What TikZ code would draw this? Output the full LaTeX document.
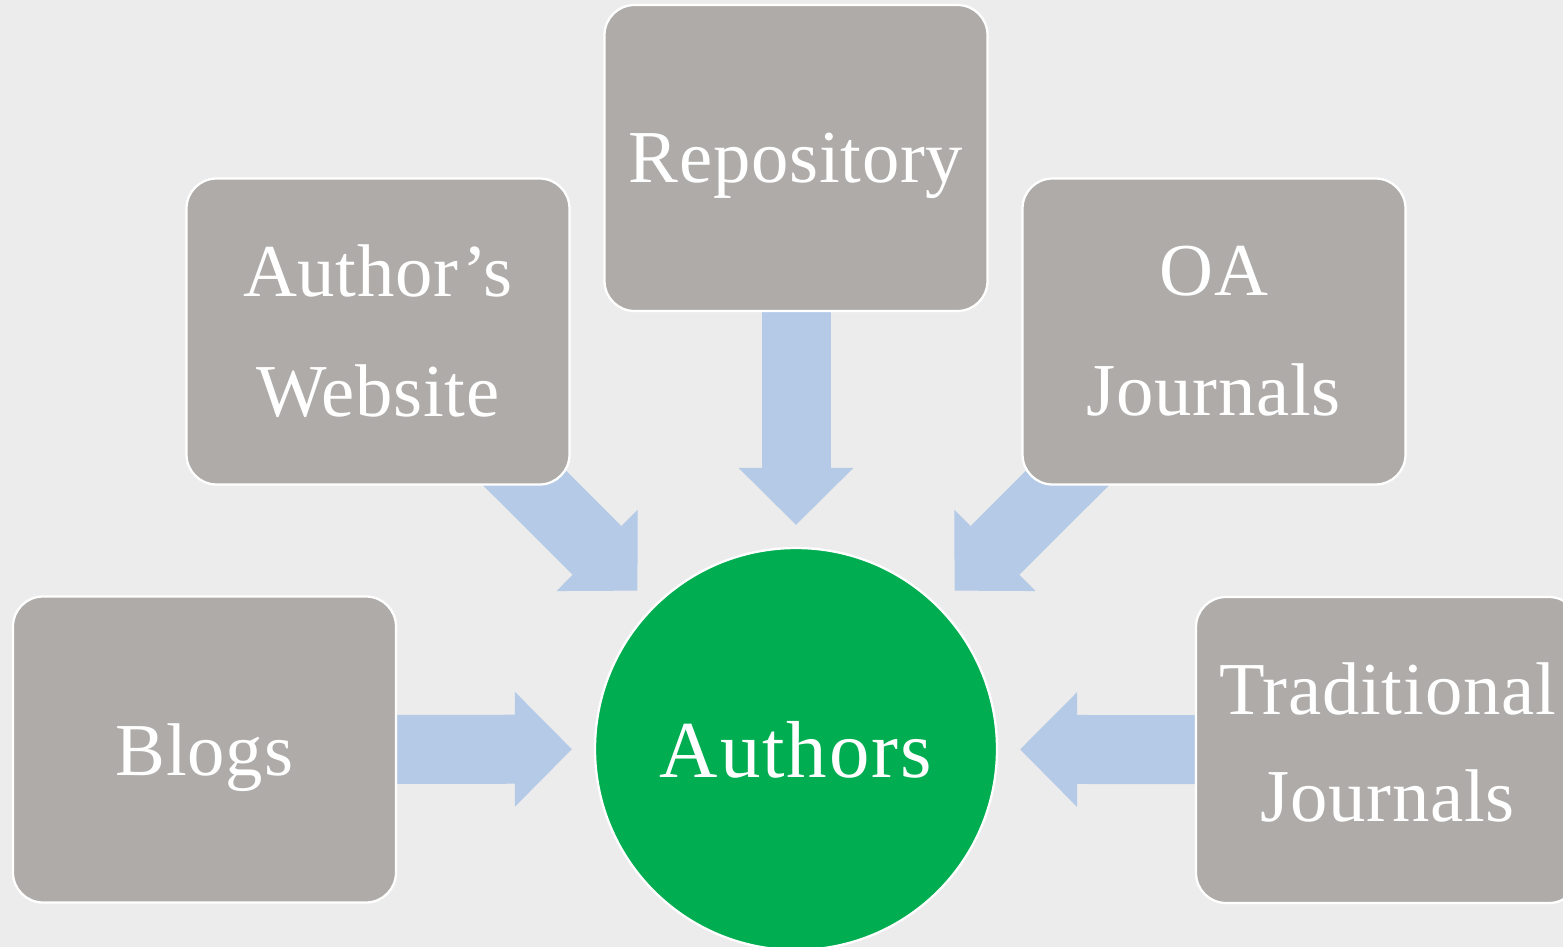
\documentclass[tikz,border=0pt]{standalone}
\usepackage{fontspec}
\setmainfont{Liberation Serif}
\usetikzlibrary{arrows.meta}
\definecolor{bgcol}{HTML}{EDECEC}
\definecolor{boxgray}{HTML}{AEABA9}
\definecolor{arrowblue}{HTML}{B5CAE7}
\definecolor{authgreen}{HTML}{00AD50}
\pgfdeclarelayer{bglayer}
\pgfdeclarelayer{flowlayer}
\pgfsetlayers{bglayer,flowlayer,main}
\tikzset{
  srcbox/.style={draw=white, line width=1.3pt, fill=boxgray, rounded corners=0.6cm,
    minimum width=7.66cm, minimum height=6.12cm, inner sep=0pt, text=white,
    align=center, font=\fontsize{42.5}{68.3}\selectfont\addfontfeature{LetterSpace=1}},
  hub/.style={circle, draw=white, line width=1.3pt, fill=authgreen, minimum size=8.04cm,
    inner sep=0pt, text=white, font=\fontsize{46}{50}\selectfont\addfontfeature{LetterSpace=2.5},
    text depth=0pt},
  flow/.style={draw=arrowblue, line width=1.38cm,
    -{Triangle[width=2.3cm,length=1.14cm,line width=0pt]},
    shorten >=0.44cm, shorten <=-1cm},
}
\begin{document}
\begin{tikzpicture}
\useasboundingbox (0,0) rectangle (31.26,-18.94);
\begin{pgfonlayer}{bglayer}
  \fill[bgcol] (0,0) rectangle (31.26,-18.94);
\end{pgfonlayer}

\node[srcbox, text depth=0pt] (rep) at (15.92,-3.16) {Repository};
\node[srcbox] (aw) at (7.56,-6.63) {Author’s\\Website};
\node[srcbox] (oa) at (24.28,-6.63) {OA\\Journals};
\node[srcbox, text depth=0pt] (blogs) at (4.09,-14.99) {Blogs};
\node[srcbox, text depth=0.32cm,
  font=\fontsize{42.5}{60.9}\selectfont\addfontfeature{LetterSpace=1}] (trad) at (27.75,-15.0) {Traditional\\Journals};
\node[hub] (auth) at (15.92,-14.98) {Authors};

\begin{pgfonlayer}{flowlayer}
  \draw[flow] (rep) -- (auth);
  \draw[flow] (aw) -- (auth);
  \draw[flow] (oa) -- (auth);
  \draw[flow] (blogs) -- (auth);
  \draw[flow] (trad) -- (auth);
\end{pgfonlayer}
\end{tikzpicture}
\end{document}
